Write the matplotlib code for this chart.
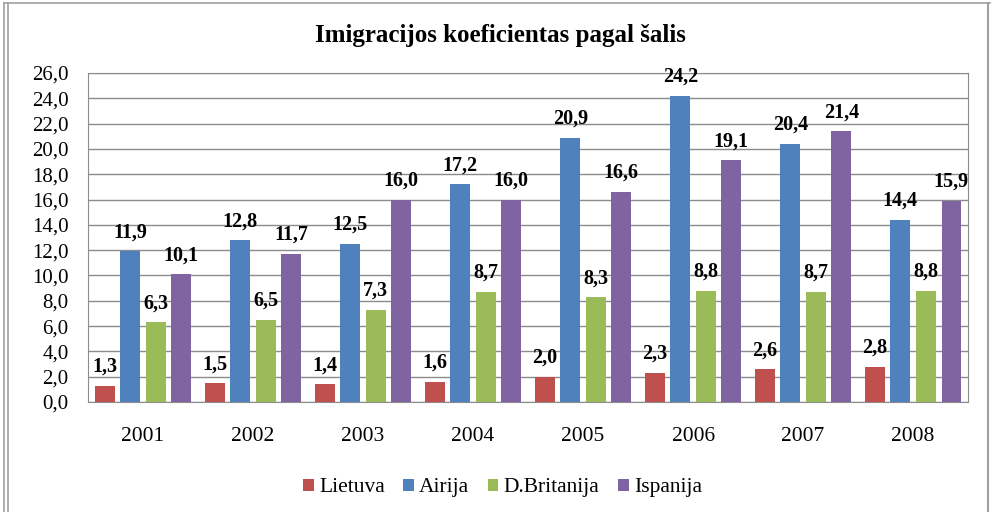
import numpy as np
import matplotlib.pyplot as plt
from matplotlib.lines import Line2D

years = ["2001", "2002", "2003", "2004", "2005", "2006", "2007", "2008"]
lietuva = [1.3, 1.5, 1.4, 1.6, 2.0, 2.3, 2.6, 2.8]
airija = [11.9, 12.8, 12.5, 17.2, 20.9, 24.2, 20.4, 14.4]
britanija = [6.3, 6.5, 7.3, 8.7, 8.3, 8.8, 8.7, 8.8]
ispanija = [10.1, 11.7, 16.0, 16.0, 16.6, 19.1, 21.4, 15.9]

series = [("Lietuva", lietuva, "#C0504D"),
          ("Airija", airija, "#4F81BD"),
          ("D.Britanija", britanija, "#9BBB59"),
          ("Ispanija", ispanija, "#8064A2")]

plt.rcParams['font.family'] = ['Liberation Serif', 'DejaVu Serif']

fig = plt.figure(figsize=(9.95, 5.12), dpi=100)
ax = fig.add_axes([0.0884, 0.2148, 0.8846, 0.6426])

x = np.arange(len(years))
pitch = 0.232
width = 0.18
for i, (name, vals, col) in enumerate(series):
    pos = x + (i - 1.5) * pitch
    ax.bar(pos, vals, width, color=col, label=name, zorder=3)
    for p, v in zip(pos, vals):
        ax.annotate(f"{v:.1f}".replace(".", ","), (p, v), xytext=(0, 10),
                    textcoords="offset points", ha="center", va="baseline",
                    fontsize=14.5, fontweight="bold")

ax.set_xlim(-0.5, len(years) - 0.5)
ax.set_ylim(0, 26)
ticks = np.arange(0, 27, 2)
ax.set_yticks(ticks)
ax.set_yticklabels([f"{t:.1f}".replace(".", ",") for t in ticks], fontsize=15)
ax.set_xticks(x)
ax.set_xticklabels(years, fontsize=15.5)
ax.tick_params(length=0, pad=18, axis="x")
ax.tick_params(length=0, pad=14, axis="y")
ax.grid(axis="y", color="#8c8c8c", linewidth=1, zorder=0)
for s in ax.spines.values():
    s.set_color("#8c8c8c")

fig.text(0.503, 0.93, "Imigracijos koeficientas pagal šalis", ha="center",
         va="center", fontsize=18, fontweight="bold")
fig.legend(loc="center", bbox_to_anchor=(0.505, 0.047), ncol=4, frameon=False,
           fontsize=15.5, handlelength=0.5, handleheight=0.5, handletextpad=0.25,
           columnspacing=0.85)

# chart border
for xx in (0.004, 0.008):
    fig.add_artist(Line2D([xx, xx], [0, 0.995], color="#a0a0a0", lw=1.2))
fig.add_artist(Line2D([0.004, 0.995], [0.995, 0.995], color="#a0a0a0", lw=1.2))
fig.add_artist(Line2D([0.993, 0.993], [0, 0.995], color="#a0a0a0", lw=1.5))

fig.savefig("out.png", dpi=100)
